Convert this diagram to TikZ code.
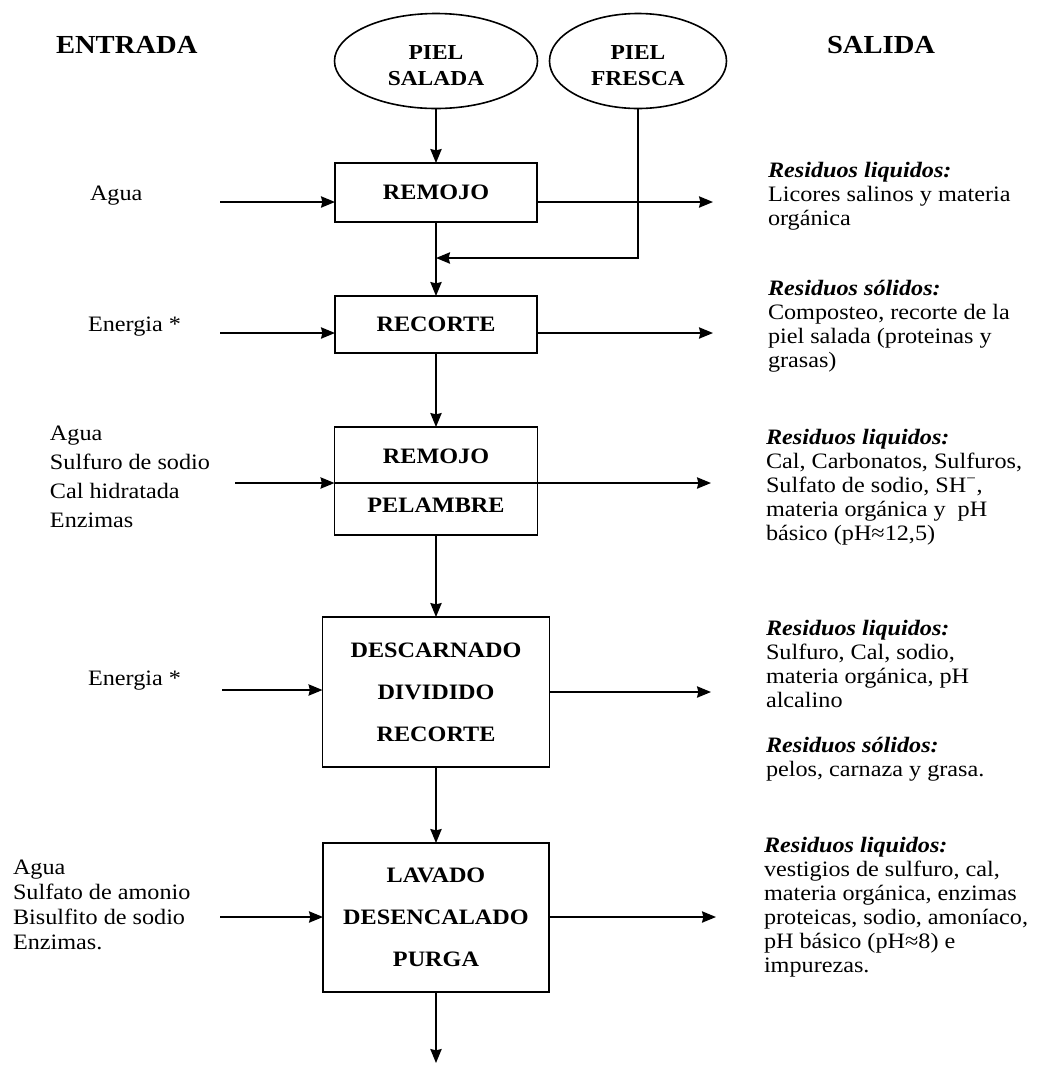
\documentclass[tikz,border=0pt]{standalone}
\usepackage{fontspec}
\setmainfont{Liberation Serif}[FakeStretch=1.1]
\usetikzlibrary{shapes.geometric,arrows.meta}

\newcommand\sidefont{\fontsize{16.5}{18}\selectfont}
\newcommand\headfont{\fontsize{19.5}{22}\selectfont\bfseries}
\newcommand\restitle[1]{\textbf{\textit{#1}}}

\begin{document}
\begin{tikzpicture}[x=0.75pt,y=-0.75pt,
  every node/.style={inner sep=0pt, outer sep=0pt},
  stage/.style={draw, line width=1.3pt, align=center,
    font=\fontsize{16.5}{31.5}\selectfont\bfseries},
  source/.style={draw, ellipse, line width=1.2pt},
  sourcetext/.style={align=center, font=\fontsize{16}{19.5}\selectfont\bfseries},
  side/.style={align=left, font=\sidefont},
  flow/.style={line width=1.1pt, -{Stealth[inset=1pt,length=10.5pt,width=8.5pt]}}]

\useasboundingbox (0,0) rectangle (1038,1065);

% column headings
\node[font=\headfont, anchor=base west] (hin) at (56,53) {ENTRADA};
\node[font=\headfont, anchor=base west] (hout) at (827,53) {SALIDA};

% raw material
\node[source, minimum width=203*0.75pt, minimum height=95*0.75pt,
  label={[sourcetext, yshift=-3.5pt]center:PIEL\\SALADA}] (ps) at (436,61) {};
\node[source, minimum width=177*0.75pt, minimum height=95*0.75pt,
  label={[sourcetext, yshift=-3.5pt]center:PIEL\\FRESCA}] (pf) at (638,61) {};

% process stages
\node[stage, minimum width=202*0.75pt, minimum height=59*0.75pt] (remojo) at (436,192.5) {REMOJO};
\node[stage, minimum width=202*0.75pt, minimum height=57*0.75pt] (recorte) at (436,324.5) {RECORTE};
\node[stage, minimum width=203*0.75pt, minimum height=108*0.75pt] (pelambre) at (436,481) {REMOJO\\[5pt]PELAMBRE};
\node[stage, minimum width=227*0.75pt, minimum height=150*0.75pt] (descarnado) at (436,692) {DESCARNADO\\DIVIDIDO\\RECORTE};
\node[stage, minimum width=226*0.75pt, minimum height=149*0.75pt] (lavado) at (436,917.5) {LAVADO\\DESENCALADO\\PURGA};

% main line
\coordinate (join) at (436,258);
\coordinate (fin) at (436,1063);
\draw[flow] (ps.south) -- (remojo.north);
\draw[flow] (pf.south) |- (join);
\draw[flow] (remojo.south) -- (recorte.north);
\draw[flow] (recorte.south) -- (pelambre.north);
\draw[flow] (pelambre.south) -- (descarnado.north);
\draw[flow] (descarnado.south) -- (lavado.north);
\draw[flow] (lavado.south) -- (fin);

% inputs
\coordinate (in1) at (220,202);
\coordinate (in2) at (220,333);
\coordinate (in3) at (235,483);
\coordinate (in4) at (222,690);
\coordinate (in5) at (220,917);
\draw[flow] (in1) -- (in1 -| remojo.west);
\draw[flow] (in2) -- (in2 -| recorte.west);
\draw[flow] (in3) -- (in3 -| pelambre.west);
\draw[flow] (in4) -- (in4 -| descarnado.west);
\draw[flow] (in5) -- (in5 -| lavado.west);

% outputs
\coordinate (out1) at (713,202);
\coordinate (out2) at (713,333);
\coordinate (out3) at (711,483);
\coordinate (out4) at (711,692);
\coordinate (out5) at (716,917);
\draw[flow] (remojo.east |- out1) -- (out1);
\draw[flow] (recorte.east |- out2) -- (out2);
\draw[flow] (in3 -| pelambre.west) -- (out3);
\draw[flow] (descarnado.east |- out4) -- (out4);
\draw[flow] (lavado.east |- out5) -- (out5);

% input labels (anchored at the baseline of their last line)
\node[side, anchor=base west] (e1) at (90,200) {Agua};
\node[side, anchor=base west] (e2) at (88,331) {Energia *};
\node[side, anchor=base west, font=\fontsize{16.5}{21.75}\selectfont] (e3) at (50,527)
  {Agua\\Sulfuro de sodio\\Cal hidratada\\Enzimas};
\node[side, anchor=base west] (e4) at (88,685) {Energia *};
\node[side, anchor=base west, font=\fontsize{16.5}{18.75}\selectfont] (e5) at (13,949)
  {Agua\\Sulfato de amonio\\Bisulfito de sodio\\Enzimas.};

% output labels (anchored at the baseline of their last line)
\node[side, anchor=base west] (s1) at (768,225)
  {\restitle{Residuos liquidos:}\\Licores salinos y materia\\orgánica};
\node[side, anchor=base west] (s2) at (768,367)
  {\restitle{Residuos sólidos:}\\Composteo, recorte de la\\piel salada (proteinas y\\grasas)};
\node[side, anchor=base west] (s3) at (766,540)
  {\restitle{Residuos liquidos:}\\Cal, Carbonatos, Sulfuros,\\Sulfato de sodio, SH\textsuperscript{−},\\materia orgánica y\ \ pH\\básico (pH≈12,5)};
\node[side, anchor=base west] (s4) at (766,707)
  {\restitle{Residuos liquidos:}\\Sulfuro, Cal, sodio,\\materia orgánica, pH\\alcalino};
\node[side, anchor=base west] (s5) at (766,776)
  {\restitle{Residuos sólidos:}\\pelos, carnaza y grasa.};
\node[side, anchor=base west] (s6) at (764,972)
  {\restitle{Residuos liquidos:}\\vestigios de sulfuro, cal,\\materia orgánica, enzimas\\proteicas, sodio, amoníaco,\\pH básico (pH≈8) e\\impurezas.};

\end{tikzpicture}
\end{document}
